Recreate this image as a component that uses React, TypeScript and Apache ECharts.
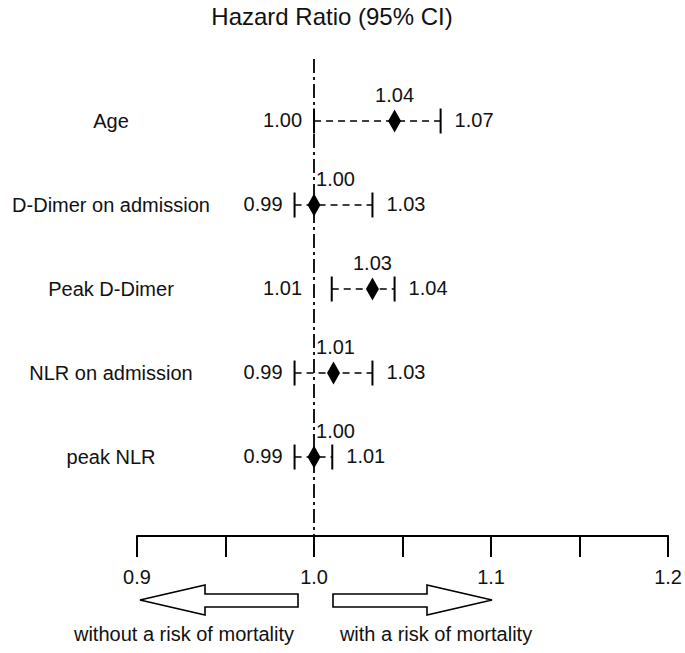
import React, { useEffect, useRef } from "react";
import * as echarts from "echarts";

const categories = ["Age", "D-Dimer on admission", "Peak D-Dimer", "NLR on admission", "peak NLR"];
const hazardRatio = [1.0455, 1.0, 1.033, 1.011, 1.0];
const ciLower = [1.0, 0.989, 1.01, 0.989, 0.989];
const ciUpper = [1.0715, 1.033, 1.0455, 1.033, 1.0103];
const hrLabels = ["1.04", "1.00", "1.03", "1.01", "1.00"];
const lowerLabels = ["1.00", "0.99", "1.01", "0.99", "0.99"];
const upperLabels = ["1.07", "1.03", "1.04", "1.03", "1.01"];
const tickValues = [0.9, 1.0, 1.1, 1.2];
const tickLabels = ["0.9", "1.0", "1.1", "1.2"];
const referenceValue = 1.0;
const titleText = "Hazard Ratio (95% CI)";
const leftNote = "without a risk of mortality";
const rightNote = "with a risk of mortality";

const FONT = "'Liberation Sans', Arial, Helvetica, sans-serif";
const INK = "#111";

let measureCtx: CanvasRenderingContext2D | null = null;
function textWidth(t: string, size: number) {
  if (!measureCtx) measureCtx = document.createElement("canvas").getContext("2d");
  if (!measureCtx) return t.length * size * 0.5;
  measureCtx.font = `${size}px ${FONT}`;
  return measureCtx.measureText(t).width;
}

function txt(x: number, y: number, text: string, align: string, size = 20) {
  return {
    type: "text",
    x,
    y,
    style: {
      text,
      fill: INK,
      fontSize: size,
      fontFamily: FONT,
      align,
      textAlign: align,
      verticalAlign: "middle",
      textVerticalAlign: "middle",
    },
  };
}

export default function App() {
  const ref = useRef<HTMLDivElement>(null);
  useEffect(() => {
    if (!ref.current) return;
    const chart = echarts.init(ref.current, null, { renderer: "svg" });
    const data = categories.map((_, i) => [i, hazardRatio[i], ciLower[i], ciUpper[i]]);

    const renderItem = (params: any, api: any) => {
      const i = api.value(0);
      const [xl, y] = api.coord([api.value(2), i]);
      const [xh] = api.coord([api.value(3), i]);
      const [xp] = api.coord([api.value(1), i]);
      const [xr] = api.coord([referenceValue, i]);
      const stroke = { stroke: "#000", lineWidth: 2 };
      const hw = textWidth(hrLabels[i], 20);
      const hrLeft = Math.max(xp - hw / 2, xr + 2);
      return {
        type: "group",
        children: [
          { type: "line", shape: { x1: xl, y1: y, x2: xh, y2: y }, style: { stroke: "#000", lineWidth: 1.5, lineDash: [7, 5] } },
          { type: "line", shape: { x1: xl, y1: y - 12.5, x2: xl, y2: y + 12.5 }, style: stroke },
          { type: "line", shape: { x1: xh, y1: y - 12.5, x2: xh, y2: y + 12.5 }, style: stroke },
          {
            type: "polygon",
            shape: { points: [[xp, y - 11.5], [xp + 6.5, y], [xp, y + 11.5], [xp - 6.5, y]] },
            style: { fill: "#000" },
          },
          txt(hrLeft, y - 26, hrLabels[i], "left"),
          txt(Math.min(xl, xr) - 12, y - 1, lowerLabels[i], "right"),
          txt(xh + 14, y - 1, upperLabels[i], "left"),
          txt(111, y, categories[i], "center"),
        ],
      };
    };

    const leftArrow = [[140, 600], [205, 585], [205, 594], [298, 594], [298, 607], [205, 607], [205, 615]];
    const rightArrow = [[333, 594], [427, 594], [427, 585], [492, 600], [427, 615], [427, 607], [333, 607]];

    chart.setOption({
      animation: false,
      grid: { left: 137, right: 15, top: 59, bottom: 117 },
      xAxis: {
        type: "value",
        position: "bottom",
        min: 0.9,
        max: 1.2,
        interval: 0.05,
        splitLine: { show: false },
        axisLine: { show: true, onZero: false, lineStyle: { color: "#000", width: 2 } },
        axisTick: { show: true, inside: false, length: 21, lineStyle: { color: "#000", width: 2 } },
        axisLabel: {
          show: true,
          margin: 31,
          showMinLabel: true,
          showMaxLabel: true,
          color: INK,
          fontSize: 20,
          fontFamily: FONT,
          formatter: (v: number) => {
            const k = tickValues.findIndex((t) => Math.abs(t - v) < 1e-6);
            return k >= 0 ? tickLabels[k] : "";
          },
        },
      },
      yAxis: { type: "value", show: false, inverse: true, min: -0.738, max: 4.94 },
      series: [
        {
          type: "custom",
          clip: false,
          renderItem,
          data,
          encode: { x: [1, 2, 3], y: 0 },
          markLine: {
            silent: true,
            symbol: "none",
            label: { show: false },
            lineStyle: { color: "#000", width: 1.8, type: [14, 4, 3, 4] },
            data: [{ xAxis: referenceValue }],
          },
        },
      ],
      graphic: [
        txt(332, 16, titleText, "center", 24),
        { type: "polygon", shape: { points: leftArrow }, style: { fill: "#fff", stroke: "#000", lineWidth: 1.6 } },
        { type: "polygon", shape: { points: rightArrow }, style: { fill: "#fff", stroke: "#000", lineWidth: 1.6 } },
        txt(184, 634, leftNote, "center"),
        txt(436, 634, rightNote, "center"),
      ],
    });
    return () => chart.dispose();
  }, []);
  return <div ref={ref} style={{ position: "fixed", left: 0, top: 0, width: 685, height: 653, background: "#fff" }} />;
}
